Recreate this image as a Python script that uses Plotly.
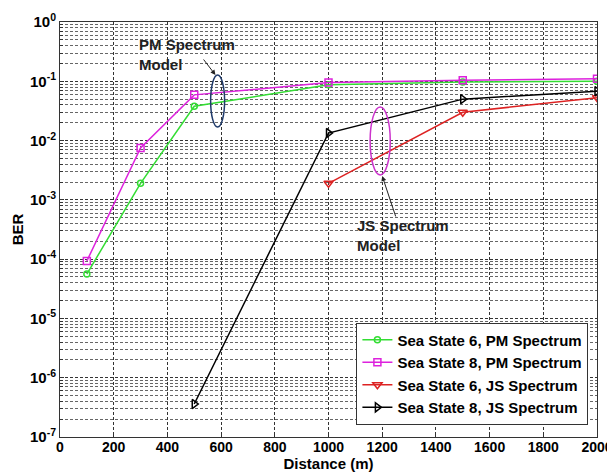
import plotly.graph_objects as go

distance_pm = [100, 300, 500, 1000, 1500, 2000]
ber_ss6_pm = [5.6e-5, 1.9e-3, 0.038, 0.087, 0.097, 0.10]
ber_ss8_pm = [9.3e-5, 7.5e-3, 0.059, 0.095, 0.104, 0.11]
distance_js6 = [1000, 1500, 2000]
ber_ss6_js = [1.9e-3, 0.030, 0.053]
distance_js8 = [500, 1000, 1500, 2000]
ber_ss8_js = [3.6e-7, 0.0134, 0.050, 0.068]

names = ["Sea State 6, PM Spectrum", "Sea State 8, PM Spectrum",
         "Sea State 6, JS Spectrum", "Sea State 8, JS Spectrum"]
x_ticks = list(range(0, 2001, 200))
y_exps = list(range(-7, 1))

FONT = "Arial, Liberation Sans, sans-serif"

fig = go.Figure()
series = [
    (distance_pm, ber_ss6_pm, "#33dd33", "circle-open", 6),
    (distance_pm, ber_ss8_pm, "#dd22dd", "square-open", 7),
    (distance_js6, ber_ss6_js, "#dd2222", "triangle-down-open", 8),
    (distance_js8, ber_ss8_js, "#000000", "triangle-right-open", 8),
]
for (xs, ys, col, sym, sz), nm in zip(series, names):
    fig.add_trace(go.Scatter(
        x=xs, y=ys, name=nm, mode="lines+markers",
        line=dict(color=col, width=1.5),
        marker=dict(symbol=sym, size=sz, color=col, line=dict(width=1.5, color=col)),
    ))

# ellipses
fig.add_shape(type="circle", xref="x", yref="y", x0=561, x1=613, y0=0.01695, y1=0.1277,
              line=dict(color="#1f3a6a", width=1.5))
fig.add_shape(type="circle", xref="x", yref="y", x0=1155, x1=1230, y0=0.00263, y1=0.0369,
              line=dict(color="#cc33cc", width=1.5))

# arrows
fig.add_annotation(x=579, y=-0.894, xref="x", yref="y", text="", showarrow=True,
                   ax=-13, ay=-17, arrowhead=2, arrowsize=1, arrowwidth=1, arrowcolor="#222")
fig.add_annotation(x=1200, y=-2.597, xref="x", yref="y", text="", showarrow=True,
                   ax=14, ay=42, arrowhead=2, arrowsize=1, arrowwidth=1, arrowcolor="#222")
# texts
fig.add_annotation(x=285, y=-0.54, xref="x", yref="y", text="<b>PM Spectrum<br>Model</b>",
                   showarrow=False, xanchor="left", yanchor="middle", align="left",
                   font=dict(family=FONT, size=15, color="#222"))
fig.add_annotation(x=1100, y=-3.609, xref="x", yref="y", text="<b>JS Spectrum<br>Model</b>",
                   showarrow=False, xanchor="left", yanchor="middle", align="left",
                   font=dict(family=FONT, size=15, color="#222"))

# page body has an 8px margin, so the figure is 8px smaller than the window
fig.update_layout(
    width=607, height=466,
    margin=dict(l=52, r=18, t=14, b=37, autoexpand=False),
    paper_bgcolor="white", plot_bgcolor="white",
    font=dict(family=FONT, size=14, color="black"),
    showlegend=True,
    legend=dict(x=0.984, y=0.03, xanchor="right", yanchor="bottom",
                bgcolor="white", bordercolor="#333", borderwidth=1,
                font=dict(family=FONT, size=15, color="black", weight="bold"),
                itemwidth=30, tracegroupgap=0),
)
fig.update_xaxes(
    automargin=False,
    range=[0, 2000], tickvals=x_ticks, ticktext=[f"<b>{v}</b>" for v in x_ticks],
    tickfont=dict(family=FONT, size=14), ticklabelstandoff=-3,
    showgrid=True, gridcolor="#333", griddash="3px,2px", gridwidth=1,
    showline=True, linecolor="#333", linewidth=1, mirror=True,
    ticks="inside", ticklen=4, tickcolor="#333",
    title=dict(text="<b>Distance (m)</b>", font=dict(family=FONT, size=15), standoff=0),
    zeroline=False,
)
fig.update_yaxes(
    automargin=False,
    type="log", range=[-7, 0],
    tickvals=[10.0 ** e for e in y_exps],
    ticktext=[f"<b>10<sup>{e}</sup></b>" for e in y_exps],
    tickfont=dict(family=FONT, size=15),
    showgrid=True, gridcolor="#333", griddash="3px,2px", gridwidth=1,
    minor=dict(dtick="D1", showgrid=True, gridcolor="#666", griddash="3px,2px",
               ticks="inside", ticklen=3, tickcolor="#333"),
    showline=True, linecolor="#333", linewidth=1, mirror=True,
    ticks="inside", ticklen=4, tickcolor="#333",
    title=dict(text="<b>BER</b>", font=dict(family=FONT, size=15), standoff=2),
    zeroline=False,
)

fig.write_html("out.html")
